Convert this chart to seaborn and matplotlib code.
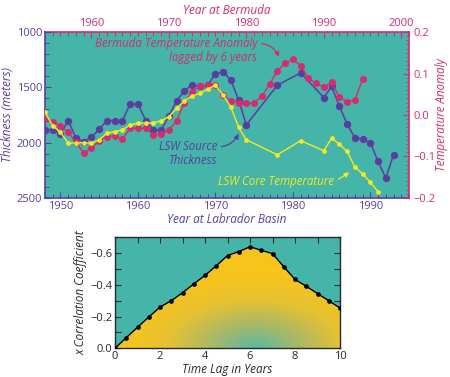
import matplotlib
matplotlib.use("Agg")
import matplotlib.pyplot as plt
import matplotlib.ticker as mticker
from matplotlib.colors import LinearSegmentedColormap
import seaborn as sns
import numpy as np

# LSW source thickness (m) by year at Labrador Basin
thick_years = [1948, 1949, 1950, 1951, 1952, 1953, 1954, 1955, 1956, 1957,
               1958, 1959, 1960, 1961, 1962, 1963, 1964, 1965, 1966, 1967,
               1968, 1969, 1970, 1971, 1972, 1973, 1974, 1978, 1981, 1984,
               1985, 1986, 1987, 1988, 1989, 1990, 1991, 1992, 1993]
thick_m = [1885, 1885, 1920, 1800, 1960, 1990, 1950, 1880, 1800, 1800,
           1800, 1650, 1650, 1800, 1885, 1885, 1760, 1620, 1530, 1480,
           1490, 1480, 1375, 1360, 1435, 1615, 1840, 1480, 1370, 1592,
           1492, 1669, 1833, 1955, 1970, 2000, 2170, 2320, 2110]

# Bermuda temperature anomaly, lagged by 6 years (plotted at Labrador year)
berm_years = list(range(1948, 1990))
berm_anom = [-0.010, -0.018, -0.026, -0.042, -0.066, -0.092, -0.080, -0.062,
             -0.052, -0.050, -0.058, -0.032, -0.032, -0.032, -0.048, -0.046,
             -0.036, -0.014, 0.030, 0.056, 0.070, 0.072, 0.072, 0.048,
             0.034, 0.030, 0.028, 0.028, 0.046, 0.074, 0.107, 0.125,
             0.134, 0.119, 0.088, 0.076, 0.067, 0.079, 0.043, 0.032,
             0.036, 0.086]

# LSW core temperature
core_years = [1948, 1949, 1950, 1951, 1952, 1953, 1954, 1955, 1956, 1957,
              1958, 1959, 1960, 1961, 1962, 1963, 1964, 1965, 1966, 1967,
              1968, 1969, 1970, 1971, 1972, 1973, 1974, 1978, 1981, 1984,
              1985, 1986, 1987, 1988, 1989, 1990, 1991]
core_temp = [0.006, -0.026, -0.042, -0.068, -0.067, -0.067, -0.068, -0.060,
             -0.044, -0.040, -0.036, -0.024, -0.020, -0.019, -0.019, -0.014,
             -0.004, 0.016, 0.034, 0.046, 0.052, 0.062, 0.072, 0.048,
             0.019, -0.030, -0.060, -0.096, -0.062, -0.086, -0.056, -0.070,
             -0.088, -0.125, -0.142, -0.162, -0.185]

# cross correlation vs time lag (shown as -1 x coefficient)
lags = [0, 0.5, 1, 1.5, 2, 2.5, 3, 3.5, 4, 4.5, 5, 5.5, 6, 6.5, 7, 7.5,
        8, 8.5, 9, 9.5, 10]
corr = [0.0, 0.067, 0.133, 0.197, 0.26, 0.30, 0.35, 0.406, 0.46, 0.52,
        0.585, 0.61, 0.64, 0.618, 0.597, 0.514, 0.434, 0.391, 0.345,
        0.30, 0.254]

TEAL = "#45b4a9"
PURPLE = "#5b3d9d"
PINK = "#d62b6f"
YELLOW = "#f5ea1f"
DARK = "#2a2a2a"

sns.set_style("ticks")
plt.rcParams["font.family"] = ["Open Sans", "DejaVu Sans"]

fig = plt.figure(figsize=(4.5, 3.77), dpi=100)

# ---- top panel ----
ax = fig.add_axes([0.1, 0.475, 0.809, 0.44])
ax.set_facecolor(TEAL)
sns.lineplot(x=thick_years, y=thick_m, ax=ax, color=PURPLE, marker="o",
             markersize=5.3, markeredgewidth=0, linewidth=1.1)
ax.set_xlim(1948, 1995)
ax.set_ylim(2500, 1000)
ax.set_xticks([1950, 1960, 1970, 1980, 1990])
ax.xaxis.set_minor_locator(mticker.MultipleLocator(1))
ax.set_yticks([1000, 1500, 2000, 2500])
ax.yaxis.set_minor_locator(mticker.MultipleLocator(100))
ax.tick_params(axis="both", which="both", direction="in", colors=PURPLE,
               labelsize=8, pad=2)
ax.tick_params(which="major", length=4, width=0.8)
ax.tick_params(which="minor", length=3, width=0.7)
ax.tick_params(axis="x", which="both", top=False)
for s in ["top", "right"]:
    ax.spines[s].set_visible(False)
for s in ["left", "bottom"]:
    ax.spines[s].set_color(PURPLE)
    ax.spines[s].set_linewidth(1.2)
ax.set_xlabel("Year at Labrador Basin", color=PURPLE, style="italic",
              fontsize=8.5, labelpad=1)
ax.set_ylabel("Thickness (meters)", color=PURPLE, style="italic",
              fontsize=8.5, labelpad=2)

ax2 = ax.twinx()
sns.lineplot(x=berm_years, y=berm_anom, ax=ax2, color=PINK, marker="o",
             markersize=5.0, markeredgewidth=0, linewidth=1.0)
sns.lineplot(x=core_years, y=core_temp, ax=ax2, color=YELLOW, marker="o",
             markersize=3.4, markeredgewidth=0, linewidth=1.0)
ax2.set_ylim(-0.2, 0.2)
ax2.set_yticks([-0.2, -0.1, 0.0, 0.1, 0.2])
ax2.yaxis.set_major_formatter(mticker.FuncFormatter(
    lambda v, _: f"{v:.1f}".replace("-", "\u2212")))
ax2.yaxis.set_minor_locator(mticker.MultipleLocator(0.01))
ax2.tick_params(axis="y", which="both", direction="in", colors=PINK,
                labelsize=8, pad=3)
ax2.tick_params(axis="y", which="major", length=4, width=0.8)
ax2.tick_params(axis="y", which="minor", length=2.5, width=0.6)
for s in ["left", "bottom", "top"]:
    ax2.spines[s].set_visible(False)
ax2.spines["right"].set_color(PINK)
ax2.spines["right"].set_linewidth(1.2)
ax2.set_ylabel("Temperature Anomaly", color=PINK, style="italic",
               fontsize=8.3, labelpad=0)

top = ax.secondary_xaxis("top", functions=(lambda x: x + 6, lambda x: x - 6))
top.set_xticks([1960, 1970, 1980, 1990, 2000])
top.xaxis.set_minor_locator(mticker.MultipleLocator(1))
top.tick_params(which="both", direction="in", colors=PINK, labelsize=8, pad=2)
top.tick_params(which="major", length=4, width=0.8)
top.tick_params(which="minor", length=3, width=0.7)
top.spines["top"].set_color(PINK)
top.spines["top"].set_linewidth(1.2)
top.set_xlabel("Year at Bermuda", color=PINK, style="italic", fontsize=8.5,
               labelpad=3)

ann = dict(style="italic", fontsize=8.3, ha="right", va="center",
           linespacing=1.05)
ax.annotate("Bermuda Temperature Anomaly\nlagged by 6 years",
            xy=(1978.2, 1225), xytext=(1975.4, 1165), color=PINK,
            arrowprops=dict(arrowstyle="-|>", color=PINK, lw=0.9,
                            mutation_scale=7, shrinkA=1, shrinkB=0,
                            connectionstyle="arc3,rad=-0.35",
                            relpos=(1.0, 0.75)),
            **ann)
ax.annotate("LSW Source\nThickness", xy=(1973.0, 1920), xytext=(1970.2, 2100),
            color=PURPLE,
            arrowprops=dict(arrowstyle="-|>", color=PURPLE, lw=0.9,
                            mutation_scale=7, shrinkA=1, shrinkB=0,
                            connectionstyle="arc3,rad=0.3",
                            relpos=(1.0, 0.75)),
            **ann)
ax.annotate("LSW Core Temperature", xy=(1987.3, 2270), xytext=(1985.3, 2355),
            color=YELLOW,
            arrowprops=dict(arrowstyle="-|>", color=YELLOW, lw=0.9,
                            mutation_scale=7, shrinkA=1, shrinkB=0,
                            connectionstyle="arc3,rad=0.0",
                            relpos=(1.0, 0.5)),
            **ann)

# ---- bottom panel ----
axc = fig.add_axes([0.2556, 0.0761, 0.5, 0.2945])
axc.set_facecolor(TEAL)
gx, gy = np.meshgrid(np.linspace(0, 10, 300), np.linspace(0, 0.7, 200))
dist = np.sqrt(((gx - 6.2) / 5.8) ** 2 + (gy / 0.45) ** 2)
grad_cmap = LinearSegmentedColormap.from_list(
    "grad", ["#5cb7a4", "#a9b967", "#e6c132", "#f7c41c"])
im = axc.imshow(np.clip(dist, 0, 1), extent=[0, 10, 0, 0.7], origin="lower",
                aspect="auto", cmap=grad_cmap, vmin=0, vmax=1, zorder=1)
poly = axc.fill_between(lags, corr, 0, facecolor="none", edgecolor="none")
im.set_clip_path(poly.get_paths()[0], transform=axc.transData)
sns.lineplot(x=lags, y=corr, ax=axc, color="black", marker="o",
             markersize=3.4, markeredgewidth=0, linewidth=1.0, zorder=3)
axc.set_xlim(0, 10)
axc.set_ylim(0, 0.7)
axc.set_xticks([0, 2, 4, 6, 8, 10])
axc.xaxis.set_minor_locator(mticker.MultipleLocator(1))
axc.set_yticks([0, 0.2, 0.4, 0.6])
axc.yaxis.set_minor_locator(mticker.MultipleLocator(0.1))
axc.yaxis.set_major_formatter(mticker.FuncFormatter(
    lambda v, _: "0.0" if abs(v) < 1e-9 else f"\u2212{v:.1f}"))
axc.tick_params(which="both", direction="in", top=True, right=True,
                colors=DARK, labelsize=8, pad=2)
axc.tick_params(which="major", length=4, width=0.8)
axc.tick_params(which="minor", length=4, width=0.8)
for s in axc.spines.values():
    s.set_color(DARK)
    s.set_linewidth(1.0)
axc.set_xlabel("Time Lag in Years", color=DARK, style="italic", fontsize=8.5,
               labelpad=1)
axc.set_ylabel("x Correlation Coefficient", color=DARK, style="italic",
               fontsize=8.5, labelpad=2)

fig.savefig("out.png", dpi=100, facecolor="white")
